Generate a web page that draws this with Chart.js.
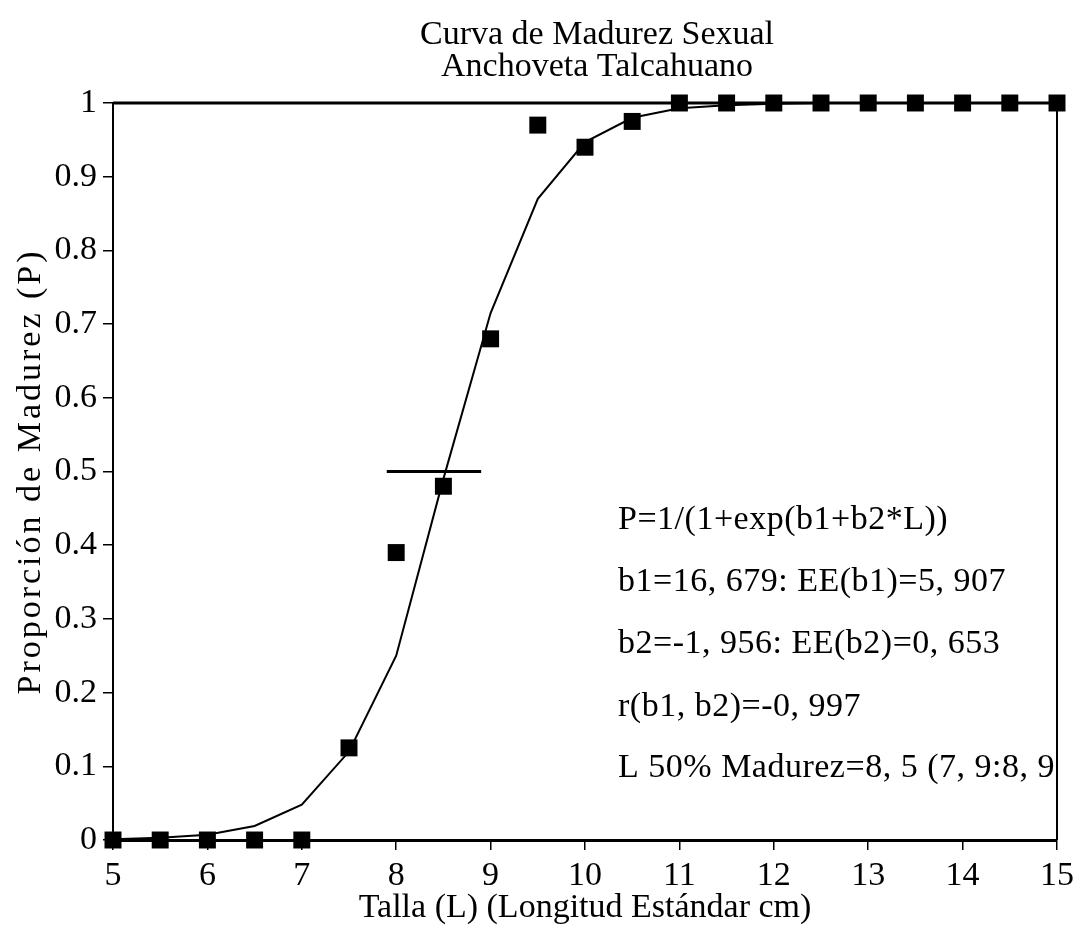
<!DOCTYPE html>
<html>
<head>
<meta charset="utf-8">
<script src="https://cdn.jsdelivr.net/npm/chart.js@4.4.1/dist/chart.umd.min.js"></script>
<style>
    html, body { margin: 0; padding: 0; background: #fff; }
    #wrap { width: 1073px; height: 936px; }
</style>
</head>
<body>
<div id="wrap"><canvas id="chart"></canvas></div>
<script>
// -------------------------------
// Daten
// -------------------------------
const tallas = [5, 5.5, 6, 6.5, 7, 7.5, 8, 8.5, 9, 9.5, 10, 10.5, 11, 11.5, 12, 12.5, 13, 13.5, 14, 14.5, 15];
const observado = [0, 0, 0, 0, 0, 0.125, 0.39, 0.48, 0.68, 0.97, 0.94, 0.975, 1, 1, 1, 1, 1, 1, 1, 1, 1];
const ajustado = [0.001, 0.003, 0.007, 0.019, 0.048, 0.12, 0.25, 0.49, 0.715, 0.87, 0.947, 0.98, 0.993, 0.997, 0.999, 1, 1, 1, 1, 1, 1];
const intervaloL = [7.9, 8.9];
const intervaloP = [0.5, 0.5];
const xTicks = [5, 6, 7, 8, 9, 10, 11, 12, 13, 14, 15];
const yTicks = [0, 0.1, 0.2, 0.3, 0.4, 0.5, 0.6, 0.7, 0.8, 0.9, 1];

const titulo = ["Curva de Madurez Sexual", "Anchoveta Talcahuano"];
const tituloX = "Talla (L) (Longitud Estándar cm)";
const tituloY = "Proporción de Madurez (P)";
const textoModelo = [
    "P=1/(1+exp(b1+b2*L))",
    "b1=16, 679: EE(b1)=5, 907",
    "b2=-1, 956: EE(b2)=0, 653",
    "r(b1, b2)=-0, 997",
    "L 50% Madurez=8, 5 (7, 9:8, 9)"
];

const FONT = '"Liberation Serif", "DejaVu Serif", serif';

function pares(xs, ys) {
    return xs.map((x, i) => ({ x: x, y: ys[i] }));
}

// -------------------------------
// Rahmen, Titel, Texte
// -------------------------------
const extras = {
    id: "extras",
    beforeDatasetsDraw(chart) {
        const { ctx, chartArea: a } = chart;
        ctx.save();
        ctx.strokeStyle = "#000";
        ctx.lineWidth = 3;
        ctx.beginPath();
        ctx.moveTo(a.left, a.top);
        ctx.lineTo(a.right, a.top);
        ctx.stroke();
        ctx.lineWidth = 2;
        ctx.beginPath();
        ctx.moveTo(a.right, a.top);
        ctx.lineTo(a.right, a.bottom);
        ctx.stroke();
        ctx.restore();
    },
    afterDraw(chart) {
        const { ctx, chartArea: a, scales } = chart;
        ctx.save();
        ctx.fillStyle = "#000";
        ctx.font = "34px " + FONT;
        ctx.textAlign = "center";
        ctx.textBaseline = "middle";
        ctx.fillText(titulo[0], 597, 35);
        ctx.fillText(titulo[1], 597, 67);

        // Y-Achsentitel
        ctx.save();
        ctx.translate(31, (a.top + a.bottom) / 2);
        ctx.rotate(-Math.PI / 2);
        ctx.letterSpacing = "3px";
        ctx.fillText(tituloY, 0, 0);
        ctx.restore();

        // Modelltext
        ctx.beginPath();
        ctx.rect(a.left, a.top, a.right - a.left - 2, a.bottom - a.top);
        ctx.clip();
        ctx.textAlign = "left";
        ctx.letterSpacing = "0.5px";
        const x0 = scales.x.getPixelForValue(10.35);
        const filas = [0.434, 0.35, 0.266, 0.181, 0.097];
        textoModelo.forEach((t, i) => {
            ctx.fillText(t, x0, scales.y.getPixelForValue(filas[i]));
        });
        ctx.restore();
    }
};

// -------------------------------
// Chart
// -------------------------------
const ctx = document.getElementById("chart");

new Chart(ctx, {
    type: "scatter",
    data: {
        datasets: [
            {
                label: "Observado",
                data: pares(tallas, observado),
                pointStyle: "rect",
                pointRadius: 12,
                pointHoverRadius: 12,
                backgroundColor: "#000",
                borderWidth: 0,
                showLine: false,
                clip: false
            },
            {
                label: "Ajustado",
                data: pares(tallas, ajustado),
                showLine: true,
                borderColor: "#000",
                borderWidth: 2,
                pointRadius: 0,
                tension: 0,
                clip: false
            },
            {
                label: "L50",
                data: pares(intervaloL, intervaloP),
                showLine: true,
                borderColor: "#000",
                borderWidth: 3,
                pointRadius: 0,
                tension: 0,
                clip: false
            }
        ]
    },
    options: {
        responsive: true,
        maintainAspectRatio: false,
        animation: false,
        layout: { padding: { top: 103, right: 16, left: 0, bottom: 0 } },
        plugins: {
            legend: { display: false },
            tooltip: { enabled: false },
            title: { display: false }
        },
        scales: {
            x: {
                type: "linear",
                min: 5,
                max: 15,
                afterBuildTicks: s => { s.ticks = xTicks.map(v => ({ value: v })); },
                afterFit: s => { s.height = 96; s.paddingLeft = 0; s.paddingRight = 0; },
                ticks: {
                    color: "#000",
                    font: { family: FONT, size: 34 },
                    padding: 6
                },
                grid: {
                    drawOnChartArea: false,
                    tickLength: 10,
                    color: "#000",
                    lineWidth: 1.5
                },
                border: { display: true, color: "#000", width: 3 },
                title: {
                    display: true,
                    text: tituloX,
                    color: "#000",
                    font: { family: FONT, size: 34 },
                    padding: { top: 0, bottom: 8 }
                }
            },
            y: {
                type: "linear",
                min: 0,
                max: 1,
                afterBuildTicks: s => { s.ticks = yTicks.map(v => ({ value: v })); },
                afterFit: s => { s.width = 113; s.paddingTop = 0; s.paddingBottom = 0; },
                ticks: {
                    color: "#000",
                    font: { family: FONT, size: 34 },
                    padding: 6,
                    callback: v => String(v)
                },
                grid: {
                    drawOnChartArea: false,
                    tickLength: 10,
                    color: "#000",
                    lineWidth: 1.5
                },
                border: { display: true, color: "#000", width: 2 }
            }
        }
    },
    plugins: [extras]
});
</script>
</body>
</html>
